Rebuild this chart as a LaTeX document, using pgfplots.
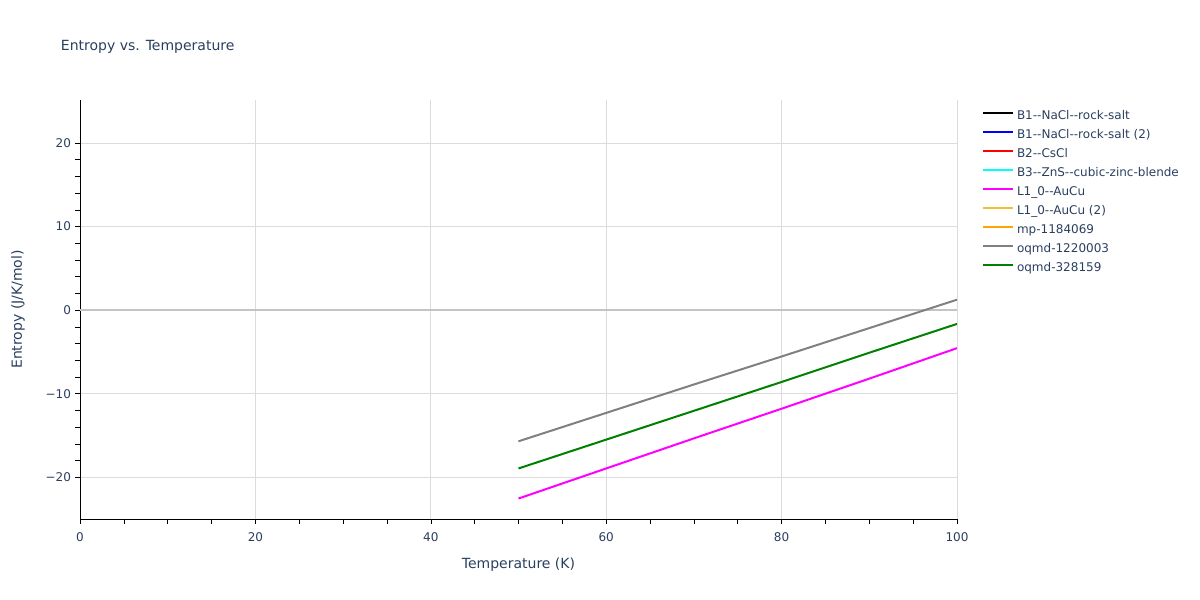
\documentclass[border=0pt]{standalone}
\usepackage{fontspec}
\setmainfont{DejaVu Sans}
\usepackage{pgfplots}
\pgfplotsset{compat=1.18}
\definecolor{txt}{HTML}{2A3F5F}
\definecolor{gridc}{HTML}{DCDCDC}
\definecolor{zeroc}{HTML}{C4C4C4}
\definecolor{goldc}{HTML}{F0C030}
\definecolor{orangec}{HTML}{FFA500}
\definecolor{grayc}{HTML}{808080}
\definecolor{greenc}{HTML}{008000}
\definecolor{magc}{HTML}{FF00FF}
\definecolor{cyanc}{HTML}{00FFFF}
\begin{document}
\begin{tikzpicture}
\useasboundingbox (-80pt,-81pt) rectangle (1120pt,519pt);
\begin{axis}[
  at={(0pt,0pt)}, anchor=south west,
  scale only axis, width=877pt, height=419pt,
  xmin=0, xmax=100, ymin=-25, ymax=25.15,
  axis lines*=left, axis line style={-, black, line width=0.8pt},
  tick align=outside, major tick length=5pt, minor tick length=5pt,
  tick style={black, line width=0.6pt},
  xtick={0,20,40,60,80,100}, minor x tick num=3,
  ytick={-20,-10,0,10,20}, yticklabels={−20,−10,0,10,20}, minor y tick num=4,
  grid=major, major grid style={gridc, line width=0.8pt},
  extra y ticks={0}, extra y tick labels={},
  extra y tick style={grid=major, major grid style={zeroc, line width=1.6pt}, tick style={draw=none}},
  /pgf/number format/assume math mode=true,
  ticklabel style={font=\fontsize{12}{14}\selectfont, text=txt},
  xticklabel style={anchor=center, yshift=-13pt},
  yticklabel style={anchor=east, inner sep=0pt, xshift=-3pt},
  xlabel={Temperature (K)}, ylabel={Entropy (J/K/mol)},
  every axis x label/.style={at={(axis description cs:0.5,0)}, anchor=center, yshift=-46pt, font=\fontsize{14}{16}\selectfont, text=txt},
  every axis y label/.style={at={(axis description cs:0,0.5)}, anchor=center, xshift=-62pt, rotate=90, font=\fontsize{14}{16}\selectfont, text=txt},
  title={Entropy vs. Temperature},
  title style={font=\fontsize{14}{16}\selectfont, text=txt, at={(axis description cs:0,1)}, anchor=west, xshift=-20pt, yshift=47pt, inner sep=0pt},
  legend image code/.code={\draw[#1, line width=2pt] (0pt,3.5pt) -- (30pt,3.5pt);},
  legend style={at={(axis description cs:1,1)}, anchor=north west, xshift=24pt, yshift=-10pt,
    draw=none, fill=none, inner sep=0pt, row sep=7pt, column sep=3pt,
    font=\fontsize{12}{14}\selectfont, text=txt,
    nodes={inner sep=0pt, text height=9pt, text depth=3pt}},
  legend cell align=left,
  line width=2pt,
]
\addlegendimage{black}
\addlegendentry{B1-{}-NaCl-{}-rock-salt}
\addlegendimage{blue}
\addlegendentry{B1-{}-NaCl-{}-rock-salt (2)}
\addlegendimage{red}
\addlegendentry{B2-{}-CsCl}
\addlegendimage{cyanc}
\addlegendentry{B3-{}-ZnS-{}-cubic-zinc-blende}
\addplot[magc, line width=2pt] coordinates {(50,-22.55)(60,-18.95)(70,-15.35)(80,-11.8)(90,-8.2)(100,-4.55)};
\addlegendentry{L1\_0-{}-AuCu}
\addlegendimage{goldc}
\addlegendentry{L1\_0-{}-AuCu (2)}
\addlegendimage{orangec}
\addlegendentry{mp-1184069}
\addplot[grayc, line width=2pt] coordinates {(50,-15.7)(60,-12.3)(70,-8.9)(80,-5.55)(90,-2.15)(100,1.25)};
\addlegendentry{oqmd-1220003}
\addplot[greenc, line width=2pt] coordinates {(50,-18.95)(60,-15.5)(70,-12.05)(80,-8.6)(90,-5.1)(100,-1.65)};
\addlegendentry{oqmd-328159}
\end{axis}
\end{tikzpicture}
\end{document}
